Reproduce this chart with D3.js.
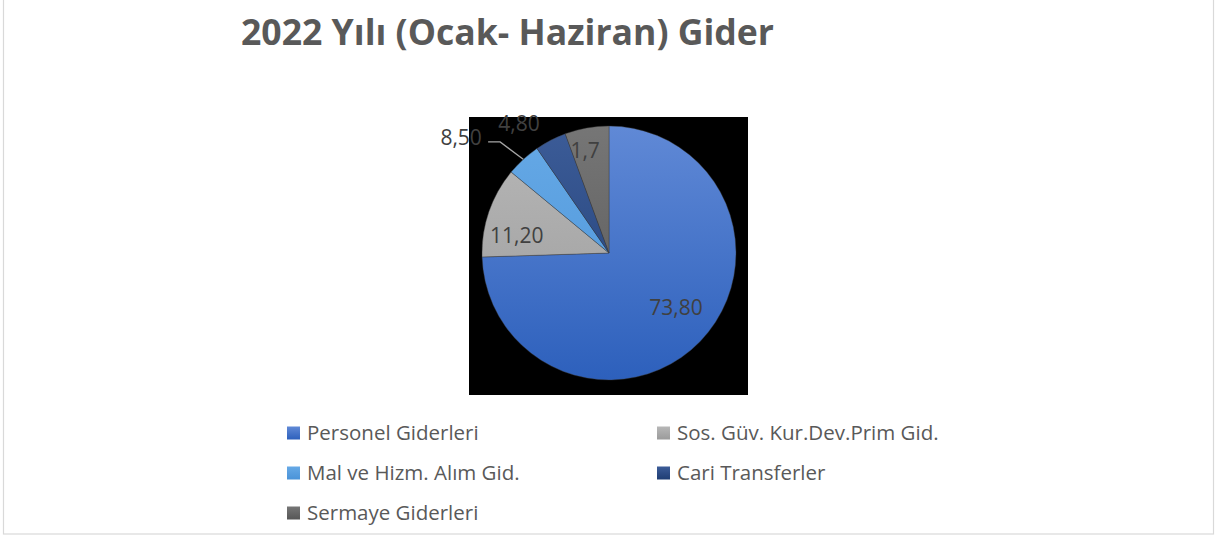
<!DOCTYPE html>
<html lang="tr">
<head>
    <meta charset="UTF-8">
    <title>2022 Yılı (Ocak- Haziran) Gider</title>
    <style>
        body { margin: 0; background: #fff; }
        svg text { font-family: 'Open Sans', 'Noto Sans', sans-serif; }
    </style>
    <script src="https://d3js.org/d3.v7.min.js"></script>
</head>
<body>
    <svg id="chart" width="1215" height="538"></svg>
    <script>
        // data
        let categories = ["Personel Giderleri", "Sos. Güv. Kur.Dev.Prim Gid.", "Mal ve Hizm. Alım Gid.", "Cari Transferler", "Sermaye Giderleri"];
        let sliceValues = [74.5, 11.5, 4.4, 4.0, 5.6];      // slice sizes as drawn
        let labelTexts = ["73,80", "11,20", "8,50", "4,80", "1,7"]; // label texts as printed
        let colorsTop = ["#6089d6", "#b7b7b7", "#66a9e6", "#3c5c98", "#767676"];
        let colorsBottom = ["#2d60bc", "#9b9b9b", "#4a93d8", "#1f3d73", "#565656"];

        let svg = d3.select("#chart");

        // outer frame
        svg.append("rect")
            .attr("x", 3.5).attr("y", -2)
            .attr("width", 1210).attr("height", 536)
            .attr("fill", "none")
            .attr("stroke", "#d9d9d9")
            .attr("stroke-width", 1.2);

        // title
        svg.append("text")
            .attr("x", 241).attr("y", 45)
            .attr("textLength", 533)
            .attr("lengthAdjust", "spacingAndGlyphs")
            .style("font-size", "36px")
            .style("font-weight", "bold")
            .attr("fill", "#595959")
            .text("2022 Yılı (Ocak- Haziran) Gider");

        // black plot area
        svg.append("rect")
            .attr("x", 469).attr("y", 117)
            .attr("width", 279).attr("height", 278)
            .attr("fill", "#000");

        let defs = svg.append("defs");
        categories.forEach(function(c, i) {
            let g = defs.append("linearGradient")
                .attr("id", "grad" + i)
                .attr("x1", 0).attr("y1", 0).attr("x2", 0).attr("y2", 1);
            g.append("stop").attr("offset", "0%").attr("stop-color", colorsTop[i]);
            g.append("stop").attr("offset", "100%").attr("stop-color", colorsBottom[i]);
        });

        let cx = 609, cy = 253, radius = 127;

        let pie = d3.pie().sort(null).value(d => d)(sliceValues);
        let arc = d3.arc().innerRadius(0).outerRadius(radius);

        let pieG = svg.append("g")
            .attr("transform", "translate(" + cx + "," + cy + ")");

        // pie gradient spans the whole pie vertically
        let pieGrad = defs.selectAll(".pieGrad")
            .data(categories)
            .enter()
            .append("linearGradient")
            .attr("class", "pieGrad")
            .attr("id", (d, i) => "pgrad" + i)
            .attr("gradientUnits", "userSpaceOnUse")
            .attr("x1", 0).attr("y1", -radius).attr("x2", 0).attr("y2", radius);
        pieGrad.append("stop").attr("offset", "0%").attr("stop-color", (d, i) => colorsTop[i]);
        pieGrad.append("stop").attr("offset", "100%").attr("stop-color", (d, i) => colorsBottom[i]);

        pieG.selectAll("path.slice")
            .data(pie)
            .enter()
            .append("path")
            .attr("class", "slice")
            .attr("d", arc)
            .attr("fill", (d, i) => "url(#pgrad" + i + ")")
            .attr("stroke", "#3a3a3a")
            .attr("stroke-width", 0.4);

        // label placement: radius factor and angle shift (degrees) per slice
        let labelRadius = [0.68, 0.74, 1.48, 1.24, 0.83];
        let labelShift = [-5, -8, -9.4, -7.5, -3];

        function polar(a, r) {
            return [Math.sin(a) * r, -Math.cos(a) * r];
        }

        pie.forEach(function(d, i) {
            let mid = (d.startAngle + d.endAngle) / 2;
            let p = polar(mid + labelShift[i] * Math.PI / 180, radius * labelRadius[i]);
            if (i === 2) {
                // leader line from the slice edge to the label
                let e = polar(mid, radius);
                pieG.append("polyline")
                    .attr("points", [e, [p[0] + 39, p[1] + 5], [p[0] + 27, p[1] + 5]].map(q => q.join(",")).join(" "))
                    .attr("fill", "none")
                    .attr("stroke", "#a6a6a6")
                    .attr("stroke-width", 1.3);
            }
            pieG.append("text")
                .attr("x", p[0]).attr("y", p[1])
                .attr("dy", "0.36em")
                .attr("text-anchor", "middle")
                .style("font-size", "21px")
                .attr("fill", "#404040")
                .text(labelTexts[i]);
        });

        // legend
        let legendX = d3.scalePoint().domain([0, 1]).range([287, 657]);
        let legendY = d3.scalePoint().domain([0, 1, 2]).range([433, 513]);

        let legend = svg.selectAll(".legend-item")
            .data(categories)
            .enter()
            .append("g")
            .attr("class", "legend-item")
            .attr("transform", (d, i) => "translate(" + legendX(i % 2) + "," + legendY(Math.floor(i / 2)) + ")");

        legend.append("rect")
            .attr("x", 0).attr("y", -6.5)
            .attr("width", 13).attr("height", 13)
            .attr("fill", (d, i) => "url(#grad" + i + ")");

        legend.append("text")
            .attr("x", 20).attr("y", 0)
            .attr("dy", "0.36em")
            .style("font-size", "20.5px")
            .attr("fill", "#595959")
            .text(d => d);
    </script>
</body>
</html>
